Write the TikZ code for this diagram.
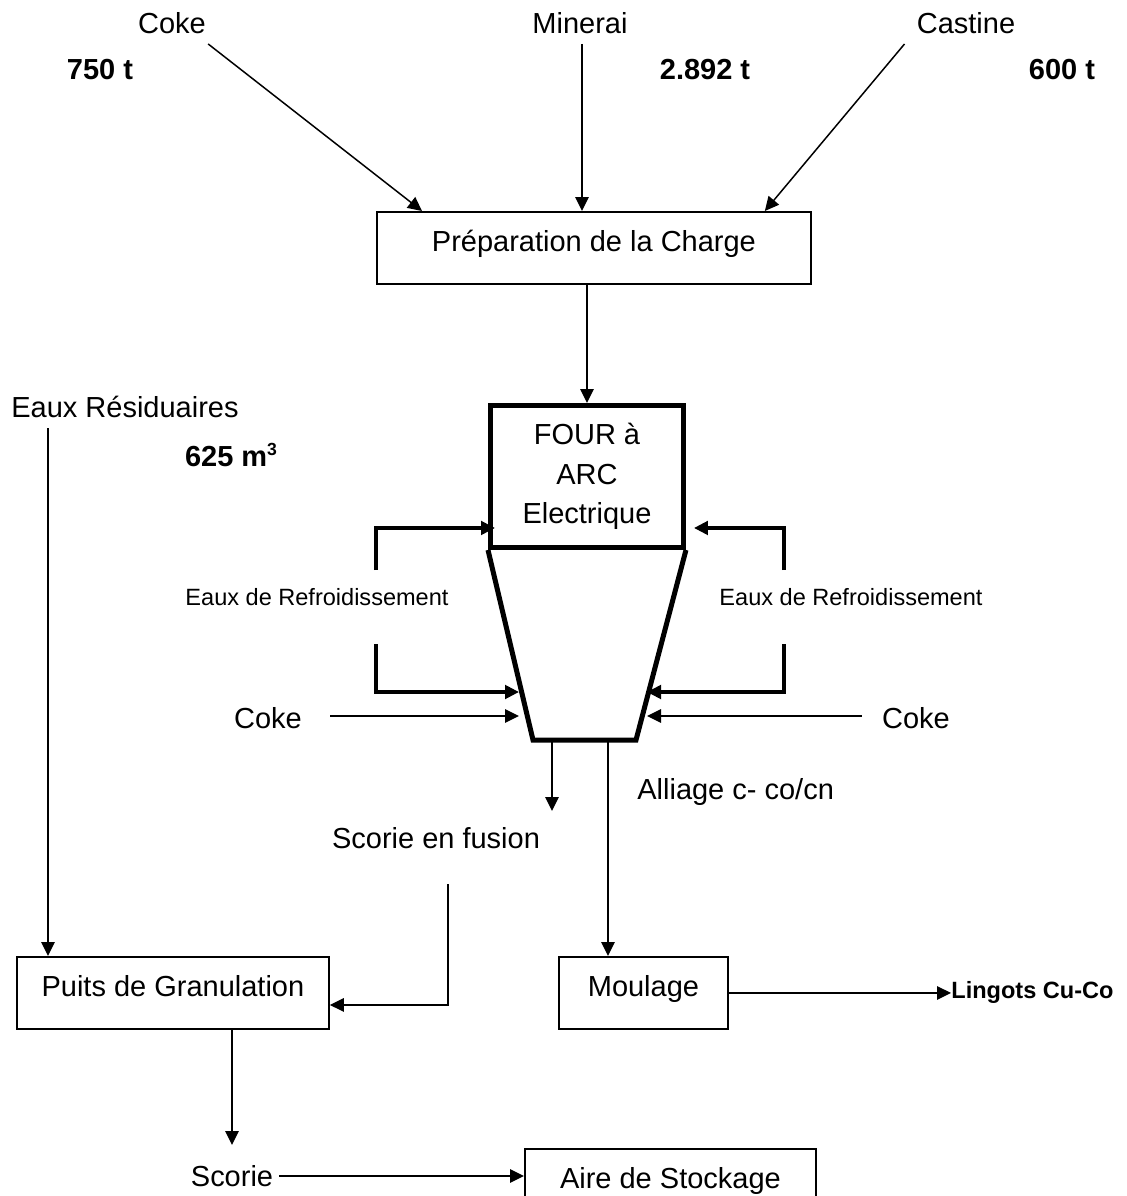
\documentclass[tikz,border=0pt]{standalone}
\usepackage{fontspec}
\setmainfont{Liberation Sans}
\usetikzlibrary{calc,arrows.meta}

\begin{document}
\begin{tikzpicture}[x=0.02cm, y=-0.02cm, >={Triangle[length=0.28cm, width=0.27cm]},
  txt/.style={inner sep=0pt, font=\fontsize{16.5}{20}\selectfont},
  qty/.style={inner sep=0pt, font=\fontsize{16.5}{20}\selectfont\bfseries},
  small/.style={inner sep=0pt, font=\fontsize{13.4}{16}\selectfont},
  box/.style={draw, line width=1.1pt, inner sep=0pt, text height=0.8cm, text depth=0.64cm,
    anchor=north west, font=\fontsize{16.5}{20}\selectfont},
  flow/.style={->, line width=0.85pt},
  water/.style={->, line width=1.9pt},
  furnace/.style={line width=2.85pt, line join=miter}]
  \useasboundingbox (0,0) rectangle (1126,1196);
  \fill[white] (0,0) rectangle (1126,1196);
  \clip (0,0) rectangle (1126,1196);

  % Charge inputs
  \node[txt] (coke) at (172,23) {Coke};
  \node[txt] (minerai) at (580,23) {Minerai};
  \node[txt] (castine) at (966,23) {Castine};
  \node[qty] (qcoke) at (100,70) {750 t};
  \node[qty] (qminerai) at (705,70) {2.892 t};
  \node[qty] (qcastine) at (1062,70) {600 t};

  \node[box, minimum width=8.68cm] (prep) at (376,211) {Préparation de la Charge};

  \coordinate (mi) at ($(minerai.south)+(2,10)$);
  \draw[flow] ($(coke.south east)+(2,10)$) -- ($(prep.north west)+(46,0)$);
  \draw[flow] (mi) -- (mi |- prep.north);
  \draw[flow] ($(castine.south west)+(-12,10)$) -- ($(prep.north east)+(-47,0)$);

  % Furnace
  \node[draw, line width=2.85pt, inner sep=0pt, minimum width=3.86cm, minimum height=2.84cm,
    align=center, anchor=north west, font=\fontsize{16.5}{22.5}\selectfont]
    (four) at (488,403) {FOUR à\\ARC\\Electrique};
  \draw[flow] (four.north |- prep.south) -- (four.north);

  \coordinate (fbl) at (533,740);
  \coordinate (fbr) at (636,740);
  \draw[furnace] (four.south west) -- (fbl) -- (fbr) -- (four.south east);

  % Cooling water and coke
  \coordinate (wl1) at (376,570);
  \coordinate (wl2) at (376,644);
  \coordinate (wr1) at (784,570);
  \coordinate (wr2) at (784,644);
  \coordinate (inL) at (519,692);
  \coordinate (inR) at (647,692);
  \draw[water] (wl1) |- ($(four.south west)+(7,-22)$);
  \draw[water] (wl2) |- (inL);
  \draw[water] (wr1) |- ($(four.south east)+(8,-22)$);
  \draw[water] (wr2) |- (inR);
  \node[small] (refL) at (317,597) {Eaux de Refroidissement};
  \node[small] (refR) at (851,597) {Eaux de Refroidissement};

  \node[txt] (cokeL) at (268,718) {Coke};
  \node[txt] (cokeR) at (916,718) {Coke};
  \draw[flow] ($(cokeL.east)+(28,-2)$) -- ($(inL)+(0,24)$);
  \draw[flow] ($(cokeR.west)+(-20,-2)$) -- ($(inR)+(0,24)$);

  % Outputs
  \coordinate (slagout) at ($(fbl)+(19,0)$);
  \coordinate (alloyout) at ($(fbr)+(-28,0)$);
  \draw[flow] (slagout) -- ++(0,71);
  \node[txt] (scfus) at (436,838) {Scorie en fusion};
  \node[txt, anchor=west] (alliage) at (637,792) {Alliage c- co/cn};

  \node[box, minimum width=3.38cm] (moulage) at (558,956) {Moulage};
  \draw[flow] (alloyout) -- (alloyout |- moulage.north);
  \node[inner sep=0pt, anchor=west, font=\fontsize{13.4}{16}\selectfont\bfseries]
    (lingots) at (951,992) {Lingots Cu-Co};
  \draw[flow] (moulage.east) -- (moulage.east -| lingots.west);

  % Granulation
  \node[txt] (eauxres) at (125,407) {Eaux Résiduaires};
  \node[qty] (qeaux) at (231,455) {625 m\raisebox{0.7ex}{\fontsize{10}{10}\selectfont 3}};
  \node[box, minimum width=6.24cm] (puits) at (16,956) {Puits de Granulation};
  \coordinate (er) at (48,428);
  \draw[flow] (er) -- (er |- puits.north);
  \coordinate (sf) at (448,884);
  \draw[flow] (sf) |- ($(puits.east)+(0,12)$);

  \node[txt] (scorie) at (232,1176) {Scorie};
  \draw[flow] (puits.south -| scorie.north) -- ($(scorie.north)+(0,-20)$);
  \node[box, minimum width=5.82cm] (aire) at (524,1148) {Aire de Stockage};
  \draw[flow] ($(scorie.east)+(6,0)$) -- (scorie.east -| aire.west);
\end{tikzpicture}
\end{document}
